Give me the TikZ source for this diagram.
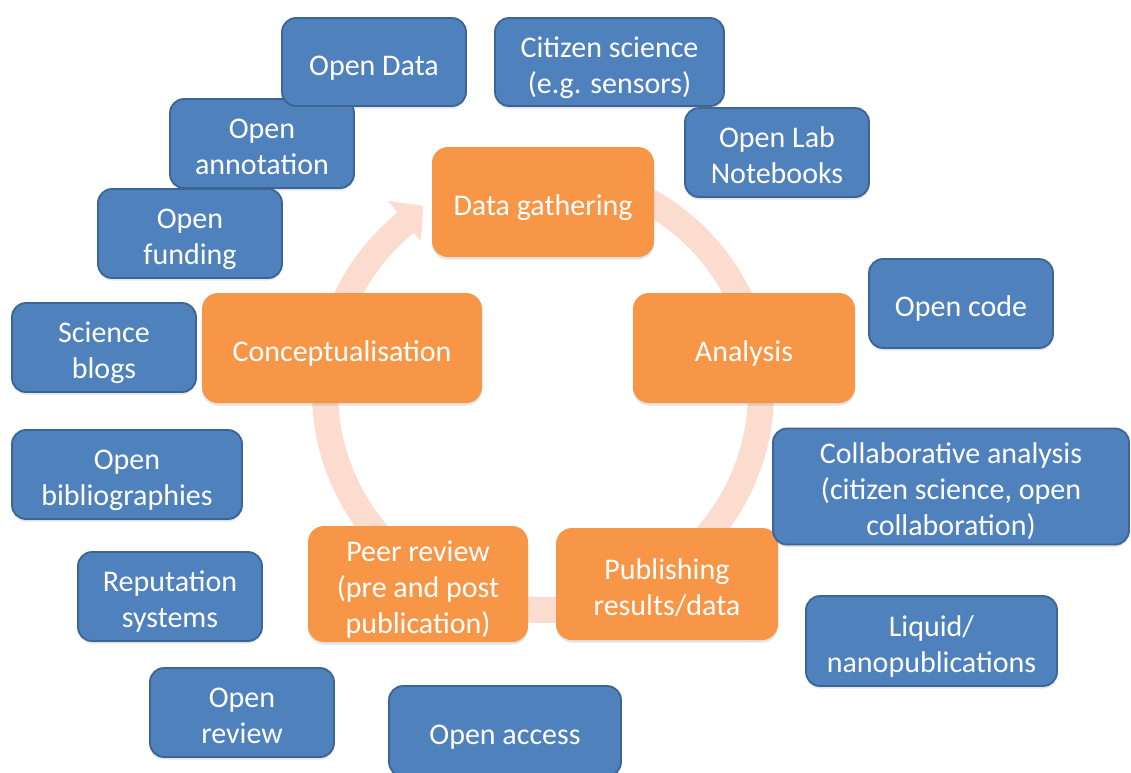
\documentclass[tikz,border=0pt]{standalone}
\usepackage{fontspec}
\setmainfont{Carlito}
\usetikzlibrary{shadows}
\definecolor{bfill}{HTML}{4F81BD}
\definecolor{bline}{HTML}{3A6594}
\definecolor{ofill}{HTML}{F79646}
\definecolor{ringc}{HTML}{FBDCCF}
\begin{document}
\begin{tikzpicture}[x=1pt,y=-1pt,
  box/.style={rectangle, align=center, text=white, inner sep=0pt,
    font={\fontsize{30}{36}\selectfont}, text depth=9pt, text height=35pt,
    drop shadow={shadow xshift=0pt, shadow yshift=-2.5pt, opacity=0.22}},
  twolines/.style={text height=71pt},
  threelines/.style={text height=107pt},
  bluebox/.style={box, rounded corners=14pt, fill=bfill, draw=bline, line width=1.8pt},
  orangebox/.style={box, rounded corners=16pt, fill=ofill, draw=none},
  ringstroke/.style={draw=ringc, line width=26pt}]
\useasboundingbox (0,0) rectangle (1131,772);
\fill[white] (0,0) rectangle (1131,772);

% cycle ring with arrow
\coordinate (rc) at (543,392);
\coordinate (rs) at ([shift={(-80:218)}]rc);
\coordinate (hb) at ([shift={(231:220)}]rc);
\coordinate (hw1) at ([shift={(231:246)}]rc);
\coordinate (hw2) at ([shift={(231:194)}]rc);
\coordinate (ht) at ([shift={(321:24)}]hb);
\draw[ringstroke] (rs) arc[start angle=-80, end angle=232, radius=218];
\fill[ringc] (hw1) -- (ht) -- (hw2) -- cycle;

% orange stages
\node[orangebox, minimum width=222pt, minimum height=110pt] (dg) at (543,202) {Data gathering};
\node[orangebox, minimum width=222pt, minimum height=110pt] (an) at (744,348) {Analysis};
\node[orangebox, minimum width=280pt, minimum height=110pt] (co) at (342,348) {Conceptualisation};
\node[orangebox, threelines, minimum width=220pt, minimum height=112pt] (pr) at (418,584) {Peer review\\(pre and post\\publication)};
\node[orangebox, twolines, minimum width=222pt, minimum height=112pt] (pu) at (667,584) {Publishing\\results/data};

% blue boxes
\node[bluebox, twolines, minimum width=184pt, minimum height=89pt] (ol) at (777,152.5) {Open Lab\\Notebooks};
\node[bluebox, twolines, minimum width=229pt, minimum height=88pt] (cs) at (609.5,62) {Citizen science\\(e.g. sensors)};
\node[bluebox, twolines, minimum width=184pt, minimum height=89pt] (oa) at (262,143.5) {Open\\annotation};
\node[bluebox, minimum width=184pt, minimum height=88pt] (od) at (374,62) {Open Data};
\node[bluebox, twolines, minimum width=184pt, minimum height=89pt] (of) at (190,233.5) {Open\\funding};
\node[bluebox, minimum width=184pt, minimum height=89pt] (oc) at (961,303.5) {Open code};
\node[bluebox, twolines, minimum width=184pt, minimum height=89pt] (sb) at (104,347.5) {Science\\blogs};
\node[bluebox, twolines, minimum width=230pt, minimum height=89pt] (ob) at (127,474.5) {Open\\bibliographies};
\node[bluebox, threelines, minimum width=356pt, minimum height=113pt] (ca) at (951,486.5) {Collaborative analysis\\(citizen science, open\\collaboration)};
\node[bluebox, twolines, minimum width=184pt, minimum height=89pt] (rs2) at (170,596.5) {Reputation\\systems};
\node[bluebox, twolines, minimum width=251pt, minimum height=90pt] (lq) at (931.5,641) {Liquid/\\nanopublications};
\node[bluebox, twolines, minimum width=184pt, minimum height=89pt] (orv) at (242,712.5) {Open\\review};
\node[bluebox, minimum width=232pt, minimum height=90pt] (oac) at (505,731) {Open access};
\end{tikzpicture}
\end{document}
